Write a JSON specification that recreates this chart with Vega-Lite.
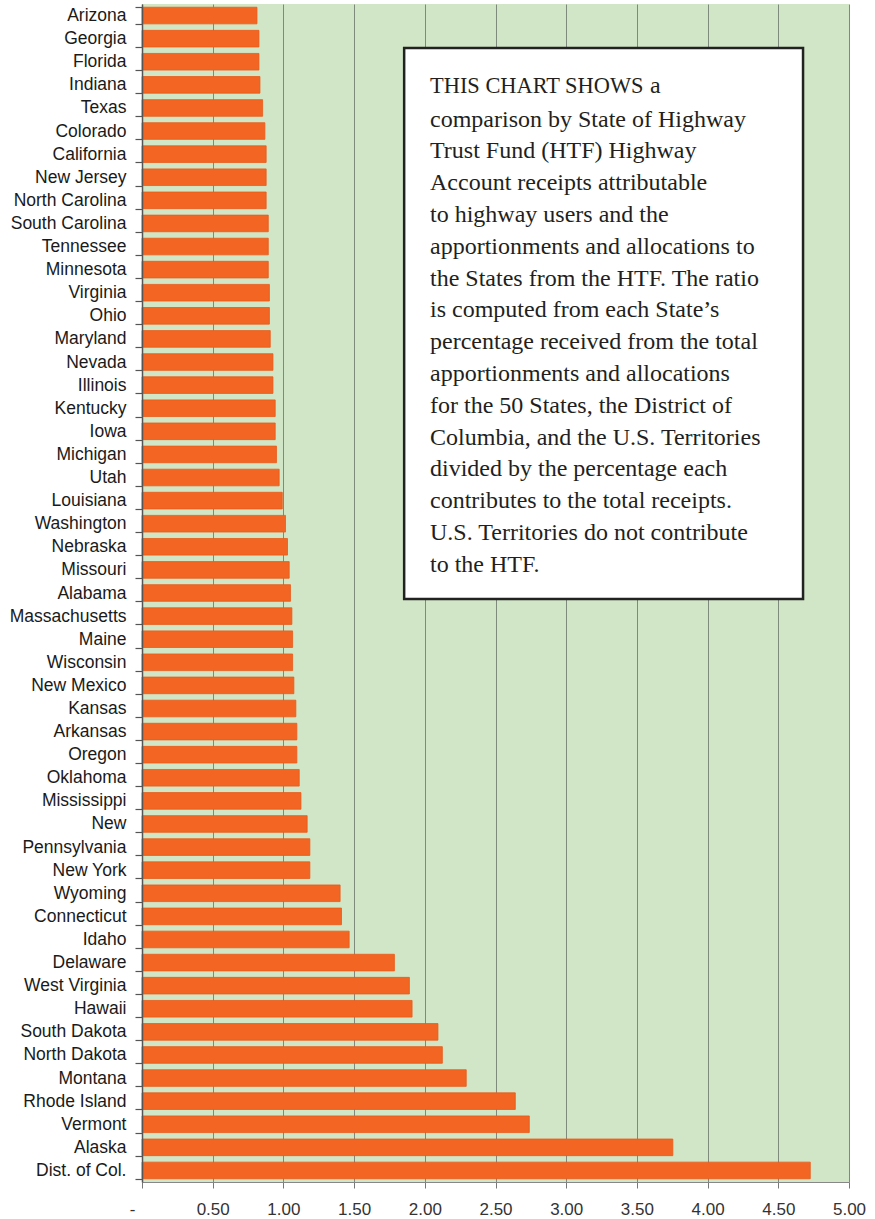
{
  "$schema": "https://vega.github.io/schema/vega-lite/v6.json",
  "width": 707,
  "height": 1178,
  "autosize": "none",
  "padding": {"left": 142, "top": 4, "right": 26, "bottom": 37},
  "background": "white",
  "config": {"view": {"fill": "#d1e6c6", "stroke": null}},
  "resolve": {"scale": {"y": "independent"}, "axis": {"y": "independent"}},
  "layer": [
    {
      "data": {"values": [
        {"state": "Arizona", "ratio": 0.813},
        {"state": "Georgia", "ratio": 0.827},
        {"state": "Florida", "ratio": 0.827},
        {"state": "Indiana", "ratio": 0.834},
        {"state": "Texas", "ratio": 0.853},
        {"state": "Colorado", "ratio": 0.869},
        {"state": "California", "ratio": 0.878},
        {"state": "New Jersey", "ratio": 0.878},
        {"state": "North Carolina", "ratio": 0.878},
        {"state": "South Carolina", "ratio": 0.893},
        {"state": "Tennessee", "ratio": 0.893},
        {"state": "Minnesota", "ratio": 0.893},
        {"state": "Virginia", "ratio": 0.901},
        {"state": "Ohio", "ratio": 0.901},
        {"state": "Maryland", "ratio": 0.907},
        {"state": "Nevada", "ratio": 0.926},
        {"state": "Illinois", "ratio": 0.926},
        {"state": "Kentucky", "ratio": 0.942},
        {"state": "Iowa", "ratio": 0.942},
        {"state": "Michigan", "ratio": 0.951},
        {"state": "Utah", "ratio": 0.970},
        {"state": "Louisiana", "ratio": 0.992},
        {"state": "Washington", "ratio": 1.015},
        {"state": "Nebraska", "ratio": 1.029},
        {"state": "Missouri", "ratio": 1.041},
        {"state": "Alabama", "ratio": 1.050},
        {"state": "Massachusetts", "ratio": 1.060},
        {"state": "Maine", "ratio": 1.065},
        {"state": "Wisconsin", "ratio": 1.065},
        {"state": "New Mexico", "ratio": 1.074},
        {"state": "Kansas", "ratio": 1.088},
        {"state": "Arkansas", "ratio": 1.095},
        {"state": "Oregon", "ratio": 1.095},
        {"state": "Oklahoma", "ratio": 1.112},
        {"state": "Mississippi", "ratio": 1.124},
        {"state": "New", "ratio": 1.168},
        {"state": "Pennsylvania", "ratio": 1.187},
        {"state": "New York", "ratio": 1.187},
        {"state": "Wyoming", "ratio": 1.401},
        {"state": "Connecticut", "ratio": 1.411},
        {"state": "Idaho", "ratio": 1.465},
        {"state": "Delaware", "ratio": 1.785},
        {"state": "West Virginia", "ratio": 1.891},
        {"state": "Hawaii", "ratio": 1.910},
        {"state": "South Dakota", "ratio": 2.093},
        {"state": "North Dakota", "ratio": 2.124},
        {"state": "Montana", "ratio": 2.293},
        {"state": "Rhode Island", "ratio": 2.640},
        {"state": "Vermont", "ratio": 2.739},
        {"state": "Alaska", "ratio": 3.754},
        {"state": "Dist. of Col.", "ratio": 4.726}
      ]},
      "mark": {"type": "bar", "color": "#f26522", "stroke": "#e95a1a", "strokeWidth": 0.8},
      "encoding": {
        "y": {
          "field": "state", "type": "nominal", "sort": null,
          "scale": {"paddingInner": 0.28, "paddingOuter": 0.14},
          "axis": {
            "title": null, "tickBand": "extent", "tickSize": 7, "tickWidth": 1.2, "labelPadding": 9,
            "labelFont": "Liberation Sans", "labelFontSize": 17.5, "labelColor": "#1a1a1a",
            "domain": true, "ticks": true, "domainColor": "#555555", "domainWidth": 1.5, "tickColor": "#555555", "grid": false, "zindex": 1
          }
        },
        "x": {
          "field": "ratio", "type": "quantitative",
          "scale": {"domain": [0, 5], "nice": false},
          "axis": {
            "title": null, "values": [0, 0.5, 1, 1.5, 2, 2.5, 3, 3.5, 4, 4.5, 5],
            "labelExpr": "datum.value == 0 ? '-' : format(datum.value, '.2f')",
            "labelAlign": {"expr": "datum.value == 0 ? 'right' : 'center'"},
            "labelOffset": {"expr": "datum.value == 0 ? -7 : 0"},
            "grid": true, "gridColor": "#7e8a7c", "gridWidth": 1,
            "tickSize": 6, "tickColor": "#777777", "domainColor": "#888888", "domainWidth": 1.2,
            "labelFont": "Liberation Sans", "labelFontSize": 17, "labelColor": "#333333",
            "labelPadding": 13
          }
        }
      }
    },
    {
      "data": {"values": [{}]},
      "layer": [
        {
          "mark": {"type": "rect", "fill": "white", "stroke": "#222222", "strokeWidth": 2.5},
          "encoding": {
            "x": {"datum": 1.854, "type": "quantitative"},
            "x2": {"datum": 4.675},
            "y": {"datum": 1.905, "type": "quantitative", "scale": {"domain": [0, 51], "reverse": true, "nice": false, "zero": false}, "axis": null},
            "y2": {"datum": 25.76}
          }
        },
        {
          "mark": {"type": "text", "text": "THIS CHART SHOWS", "font": "Liberation Serif", "fontSize": 22.4, "align": "left", "baseline": "alphabetic", "color": "#231f20"},
          "encoding": {
            "x": {"datum": 2.037, "type": "quantitative"},
            "y": {"datum": 3.853, "type": "quantitative", "axis": null}
          }
        },
        {
          "mark": {"type": "text", "text": "a", "font": "Liberation Serif", "fontSize": 24, "align": "left", "baseline": "alphabetic", "color": "#231f20"},
          "encoding": {
            "x": {"datum": 3.592, "type": "quantitative"},
            "y": {"datum": 3.853, "type": "quantitative", "axis": null}
          }
        },
        {
          "mark": {"type": "text", "lineBreak": "\n", "lineHeight": 31.8, "font": "Liberation Serif", "fontSize": 24, "align": "left", "baseline": "alphabetic", "color": "#231f20",
            "text": "comparison by State of Highway\nTrust Fund (HTF) Highway\nAccount receipts attributable\nto highway users and the\napportionments and allocations to\nthe States from the HTF. The ratio\nis computed from each State’s\npercentage received from the total\napportionments and allocations\nfor the 50 States, the District of\nColumbia, and the U.S. Territories\ndivided by the percentage each\ncontributes to the total receipts.\nU.S. Territories do not contribute\nto the HTF."},
          "encoding": {
            "x": {"datum": 2.037, "type": "quantitative"},
            "y": {"datum": 5.31, "type": "quantitative", "axis": null}
          }
        }
      ]
    }
  ]
}
